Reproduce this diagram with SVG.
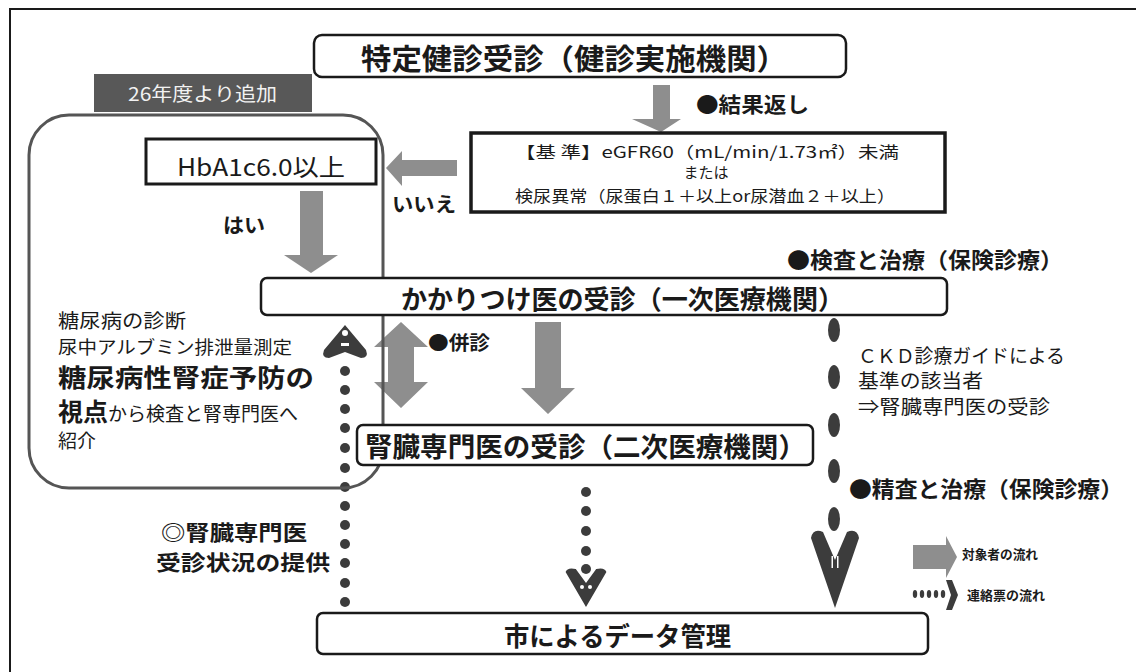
<svg xmlns="http://www.w3.org/2000/svg" width="1144" height="672" viewBox="0 0 1144 672">
<style>
.t{font-family:"Noto Sans CJK JP","Noto Sans",sans-serif;fill:#1a1a1a}
.b{font-weight:700}
.box{fill:#fff;stroke:#1a1a1a;stroke-width:2.5}
.ga{fill:#8e8e8e}
.dk{fill:#3c3c3c}
</style>
<defs>
<g id="vhead">
<path d="M-24,-30 Q-22,-40 -12,-36 L0,-8 L12,-36 Q22,-40 24,-30 L0,40 Z"/>
</g>
</defs>
<rect width="1144" height="672" fill="#fff"/>
<path d="M10,672 V9 H1136" fill="none" stroke="#1a1a1a" stroke-width="2"/>

<g id="connectors">
<polygon class="ga" points="653,85 670,85 670,119 681,119 661,132 632,119 653,119"/>
<polygon class="ga" points="457,160 457,176 402,176 402,186 386,168 402,151 402,160"/>
<polygon class="ga" points="300,191 323,191 323,255 338,255 311,273 284,255 300,255"/>
<polygon class="ga" points="401,322 428,347 414,347 414,382 428,382 401,408 374,382 388,382 388,347 374,347"/>
<polygon class="ga" points="535,322 561,322 561,388 575,388 548,414 521,388 535,388"/>
<g class="dk">
<circle cx="345" cy="371" r="5"/><circle cx="345" cy="390" r="5"/><circle cx="345" cy="409" r="5"/>
<circle cx="345" cy="428" r="5"/><circle cx="345" cy="448" r="5"/><circle cx="345" cy="468" r="5"/>
<circle cx="345" cy="487" r="5"/><circle cx="345" cy="506" r="5"/><circle cx="345" cy="525" r="5"/>
<circle cx="345" cy="544" r="5"/><circle cx="345" cy="563" r="5"/><circle cx="345" cy="583" r="5"/>
<circle cx="345" cy="602" r="5"/>
<path d="M345,325 L366,350 Q369,358 361,358 L345,352 L329,358 Q321,358 324,350 Z"/>
</g>
<circle cx="345" cy="333" r="3" fill="#fff"/>
<rect x="341" y="343" width="8" height="3" fill="#fff"/>
<g class="dk">
<circle cx="586" cy="492" r="5"/><circle cx="586" cy="511" r="5"/><circle cx="586" cy="531" r="5"/>
<circle cx="586" cy="551" r="5"/><circle cx="586" cy="569" r="5"/>
<use href="#vhead" transform="translate(586,587) scale(0.85,0.5)"/>
</g>
<circle cx="582" cy="587" r="2" fill="#fff"/><circle cx="590" cy="587" r="2" fill="#fff"/>
<g class="dk">
<ellipse cx="834" cy="330" rx="6" ry="12"/><ellipse cx="834" cy="377" rx="6" ry="12"/>
<ellipse cx="834" cy="425" rx="6" ry="12"/><ellipse cx="834" cy="471" rx="6" ry="12"/>
<ellipse cx="834" cy="519" rx="6" ry="12"/>
<use href="#vhead" transform="translate(835,568)"/>
</g>
<rect x="831.5" y="556" width="1.5" height="12" fill="#fff"/><rect x="837" y="556" width="1.5" height="12" fill="#fff"/>
</g>

<g id="top">
<rect class="box" x="314" y="35" width="532" height="42" rx="8"/>
<text class="t b" x="361" y="70" font-size="29" textLength="426" lengthAdjust="spacingAndGlyphs">特定健診受診（健診実施機関）</text>
</g>
<g id="banner">
<rect x="94" y="74" width="218" height="38" fill="#585858"/>
<text class="t" x="128" y="101" font-size="19" style="fill:#f2f2f2" textLength="149" lengthAdjust="spacingAndGlyphs">26年度より追加</text>
</g>
<g id="added">
<rect x="29" y="115" width="354" height="373" rx="40" fill="none" stroke="#555" stroke-width="3"/>
<text class="t" x="58" y="328" font-size="19" textLength="128" lengthAdjust="spacingAndGlyphs">糖尿病の診断</text>
<text class="t" x="58" y="354" font-size="18" textLength="234" lengthAdjust="spacingAndGlyphs">尿中アルブミン排泄量測定</text>
<text class="t b" x="58" y="387" font-size="25" textLength="256" lengthAdjust="spacingAndGlyphs">糖尿病性腎症予防の</text>
<text class="t" x="58" y="421"><tspan class="b" font-size="25">視点</tspan><tspan font-size="19">から検査と腎専門医へ</tspan></text>
<text class="t" x="58" y="448" font-size="19">紹介</text>
</g>
<g id="hba1c">
<rect x="146" y="139" width="230" height="45" fill="#fff" stroke="#1a1a1a" stroke-width="3"/>
<text class="t" x="177" y="176" font-size="24" textLength="168" lengthAdjust="spacingAndGlyphs">HbA1c6.0以上</text>
</g>
<g id="criteria">
<rect x="471" y="133" width="474" height="79" fill="#fff" stroke="#1a1a1a" stroke-width="3.5"/>
<text class="t" x="515" y="158" font-size="16" textLength="384" lengthAdjust="spacingAndGlyphs">【基 準】eGFR60（mL/min/1.73㎡）未満</text>
<text class="t" x="706" y="178" font-size="15" text-anchor="middle">または</text>
<text class="t" x="515" y="202" font-size="16" textLength="380" lengthAdjust="spacingAndGlyphs">検尿異常（尿蛋白１＋以上or尿潜血２＋以上）</text>
</g>
<g id="labels">
<text class="t b" x="696" y="112" font-size="21" textLength="113" lengthAdjust="spacingAndGlyphs">●結果返し</text>
<text class="t b" x="392" y="212" font-size="20" textLength="64" lengthAdjust="spacingAndGlyphs">いいえ</text>
<text class="t b" x="223" y="233" font-size="20" textLength="42" lengthAdjust="spacingAndGlyphs">はい</text>
<text class="t b" x="787" y="268" font-size="22" textLength="276" lengthAdjust="spacingAndGlyphs">●検査と治療（保険診療）</text>
<text class="t b" x="428" y="350" font-size="19" textLength="62" lengthAdjust="spacingAndGlyphs">●併診</text>
<text class="t" x="858" y="363" font-size="19" textLength="207" lengthAdjust="spacingAndGlyphs">ＣＫＤ診療ガイドによる</text>
<text class="t" x="858" y="388" font-size="19" textLength="125" lengthAdjust="spacingAndGlyphs">基準の該当者</text>
<text class="t" x="858" y="414" font-size="19" textLength="192" lengthAdjust="spacingAndGlyphs">⇒腎臓専門医の受診</text>
<text class="t b" x="849" y="497" font-size="22" textLength="274" lengthAdjust="spacingAndGlyphs">●精査と治療（保険診療）</text>
<text class="t b" x="161" y="540" font-size="21" textLength="146" lengthAdjust="spacingAndGlyphs">◎腎臓専門医</text>
<text class="t b" x="156" y="570" font-size="21" textLength="174" lengthAdjust="spacingAndGlyphs">受診状況の提供</text>
</g>
<g id="primary">
<rect class="box" x="261" y="278" width="686" height="37" rx="6"/>
<text class="t b" x="401" y="309" font-size="26" textLength="443" lengthAdjust="spacingAndGlyphs">かかりつけ医の受診（一次医療機関）</text>
</g>
<g id="secondary">
<rect class="box" x="357" y="425" width="456" height="40" rx="6"/>
<text class="t b" x="365" y="457" font-size="27" textLength="441" lengthAdjust="spacingAndGlyphs">腎臓専門医の受診（二次医療機関）</text>
</g>
<g id="city">
<rect class="box" x="317" y="613" width="611" height="41" rx="6"/>
<text class="t b" x="504" y="646" font-size="26" textLength="227" lengthAdjust="spacingAndGlyphs">市によるデータ管理</text>
</g>
<g id="legend">
<polygon class="ga" points="913,545 946,545 946,536 957,557 946,578 946,569 913,569"/>
<text class="t b" x="962" y="559" font-size="13" textLength="76" lengthAdjust="spacingAndGlyphs">対象者の流れ</text>
<g class="dk">
<ellipse cx="915" cy="594" rx="2.2" ry="4"/><ellipse cx="922" cy="594" rx="2.2" ry="4"/>
<ellipse cx="929" cy="594" rx="2.2" ry="4"/><ellipse cx="936" cy="594" rx="2.2" ry="4"/>
<ellipse cx="943" cy="594" rx="2.2" ry="4"/>
<path d="M946,580 L952,580 L958,595 L952,610 L946,610 L951,595 Z"/>
</g>
<text class="t b" x="967" y="600" font-size="13" textLength="78" lengthAdjust="spacingAndGlyphs">連絡票の流れ</text>
</g>
</svg>
